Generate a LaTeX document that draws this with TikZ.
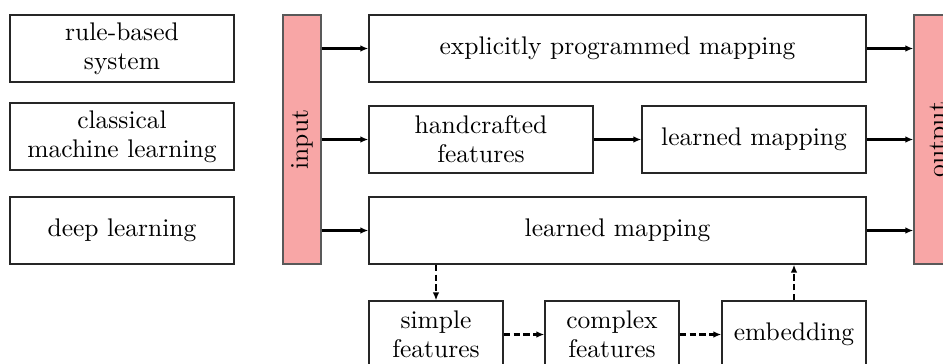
\documentclass[tikz,border=0pt]{standalone}
\usetikzlibrary{arrows.meta}
\newdimen\px
\px=0.3922pt
\definecolor{barpink}{RGB}{248,166,166}
\begin{document}
\begin{tikzpicture}[x=\px,y=-\px,
  every node/.style={font=\fontsize{10}{11.3}\selectfont},
  box/.style={draw=black!85,line width=0.45pt,inner sep=0pt,align=center,
    minimum height=67*\px},
  bar/.style={draw=black!65,line width=0.45pt,fill=barpink,inner sep=0pt,
    minimum width=38*\px,minimum height=249*\px},
  flow/.style={line width=0.85pt,-{Latex[length=3.2pt,width=2.6pt]}},
  dflow/.style={flow,dash pattern=on 2.6pt off 1.3pt}]
\path[use as bounding box,clip] (0,0) rectangle (943,363);

% legend boxes on the left
\node[box,minimum width=224*\px] (rule) at (122,48.5) {rule-based\\system};
\node[box,minimum width=224*\px] (classic) at (122,136.5) {classical\\machine learning};
\node[box,minimum width=224*\px] (deep) at (122,230.5) {deep learning};

% input and output bars
\node[bar] (in) at (302,139.5) {};
\node[rotate=90] at (in.center) {input};
\node[bar,minimum width=52*\px] (out) at (940,139.5) {};
\node[rotate=90] at (out.center) {output};

% rows of the three approaches
\node[box,minimum width=497*\px] (prog) at (617.5,48.5) {explicitly programmed mapping};
\node[box,minimum width=224*\px] (hand) at (481,139.5) {handcrafted\\features};
\node[box,minimum width=224*\px] (lmap) at (754,139.5) {learned mapping};
\node[box,minimum width=497*\px] (deepmap) at (617.5,230.5) {learned mapping};

% inside the deep learning mapping
\node[box,minimum width=134*\px] (simple) at (436,334.5) {simple\\features};
\node[box,minimum width=134*\px] (complex) at (612,334.5) {complex\\features};
\node[box,minimum width=144*\px] (emb) at (794,334.5) {embedding};

% solid connectors
\draw[flow] (in.east |- prog.west) -- (prog.west);
\draw[flow] (in.east |- hand.west) -- (hand.west);
\draw[flow] (in.east |- deepmap.west) -- (deepmap.west);
\draw[flow] (hand.east) -- (lmap.west);
\draw[flow] (prog.east) -- (out.west |- prog.east);
\draw[flow] (lmap.east) -- (out.west |- lmap.east);
\draw[flow] (deepmap.east) -- (out.west |- deepmap.east);

% dashed connectors
\draw[dflow] (deepmap.south -| simple.north) -- (simple.north);
\draw[dflow] (simple.east) -- (complex.west);
\draw[dflow] (complex.east) -- (emb.west);
\draw[dflow] (emb.north) -- (emb.north |- deepmap.south);
\end{tikzpicture}
\end{document}
